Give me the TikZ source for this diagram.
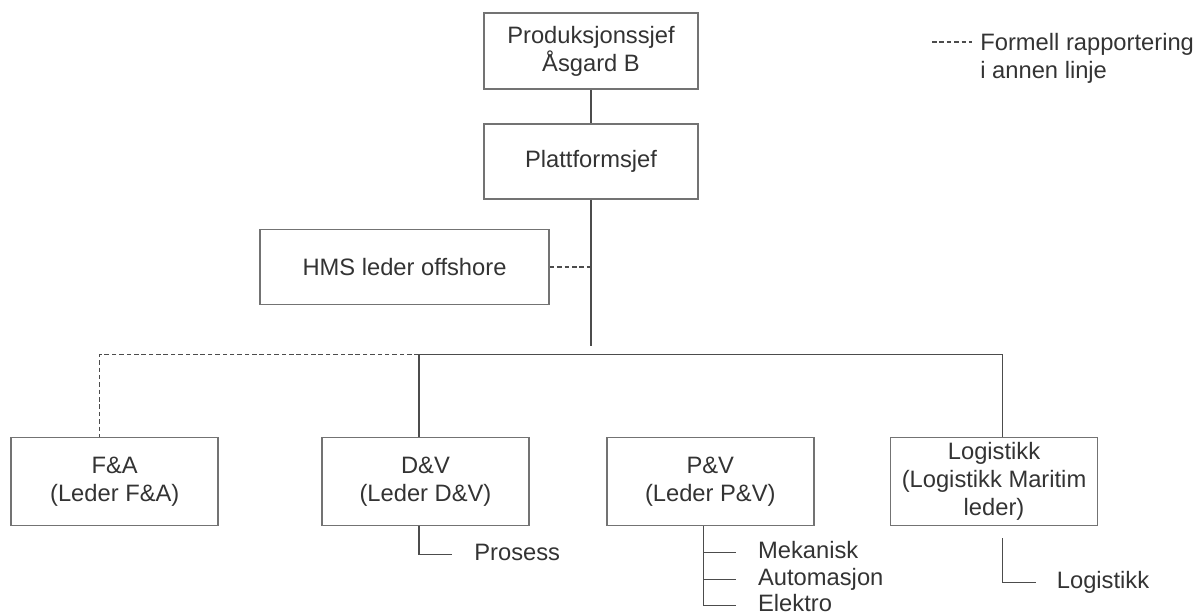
\documentclass[tikz,border=0pt]{standalone}
\usepackage{fontspec}
\setmainfont{Liberation Sans}
\usetikzlibrary{positioning, calc}

\begin{document}
\begin{tikzpicture}[
    node distance=0.6cm and 1.5cm, every node/.style={font=\fontsize{13.5}{15.8}\selectfont, text=black!80},
    s/.style={draw=black!55, line width=1pt, minimum width=4.14cm, minimum height=1.76cm, align=center, inner sep=2pt},
    ln/.style={draw=black!70, line width=0.8pt},
    dl/.style={ln, dash pattern=on 2.6pt off 1.6pt},
    lbl/.style={anchor=west, inner sep=0pt, text height=1.6ex, text depth=0.25ex}
  ]
  \useasboundingbox (0,0) rectangle (24,-12.3);

  % Top chain
  \node[s, minimum width=4.28cm, minimum height=1.52cm] (ps) at (11.82,-1.02) {Produksjonssjef\\Åsgard B};
  \node[s, minimum width=4.28cm, minimum height=1.5cm, below=0.66cm of ps] (pf) {Plattformsjef};
  \node[s, minimum width=5.78cm, minimum height=1.5cm, below=0.58cm of pf, xshift=-3.73cm] (hms) {HMS leder offshore};
  \coordinate (hub) at ([yshift=-2.92cm]pf.south);
  \draw[ln] (ps) -- (pf);
  \draw[ln] (pf) -- (hub);
  \draw[dl] (hms.east) -- (hms.east -| hub);

  % Departments
  \node[s, below=4.74cm of pf, xshift=-3.31cm] (dv) {D\&V\\(Leder D\&V)};
  \node[s, left=2.04cm of dv]  (fa) {F\&A\\(Leder F\&A)};
  \node[s, right=1.52cm of dv] (pv) {P\&V\\(Leder P\&V)};
  \node[s, right=1.5cm of pv]  (lg) {Logistikk\\(Logistikk Maritim\\leder)};
  \coordinate (dvin) at ([xshift=-0.13cm]dv.north);
  \coordinate (lgin) at ([xshift=0.17cm]lg.north);
  \coordinate (bar) at ([yshift=1.64cm]dvin);
  \draw[ln] (dvin) -- (bar) -| (lgin);
  \draw[dl] (bar) -| ([xshift=-0.3cm]fa.north);

  % Sub units
  \coordinate (dvs) at ([xshift=-0.13cm]dv.south);
  \node[lbl] (pr) at ([xshift=1.1cm, yshift=-0.56cm]dvs) {Prosess};
  \draw[ln] (dvs) |- ([xshift=-0.44cm]pr.west);

  \coordinate (pvs) at ([xshift=-0.13cm]pv.south);
  \node[lbl] (me) at ([xshift=1.08cm, yshift=-0.52cm]pvs) {Mekanisk};
  \node[lbl] (au) at ([xshift=1.08cm, yshift=-1.06cm]pvs) {Automasjon};
  \node[lbl] (el) at ([xshift=1.08cm, yshift=-1.58cm]pvs) {Elektro};
  \draw[ln] (pvs) |- ([xshift=-0.44cm]el.west);
  \foreach \n in {me, au}
    \draw[ln] (pvs |- \n.west) -- ([xshift=-0.44cm]\n.west);

  \coordinate (lgs) at ([xshift=0.17cm, yshift=-0.24cm]lg.south);
  \node[lbl] (lo) at ([xshift=1.08cm, yshift=-0.88cm]lgs) {Logistikk};
  \draw[ln] (lgs) |- ([xshift=-0.42cm]lo.west);

  % Legend
  \node[anchor=west, inner sep=0pt, align=left] (lgd) at (19.6,-1.17) {Formell rapportering\\i annen linje};
  \coordinate (lgl) at (18.64,-0.84);
  \draw[dl] (lgl) -- ($(lgl -| lgd.west)+(-0.16,0)$);
\end{tikzpicture}
\end{document}
